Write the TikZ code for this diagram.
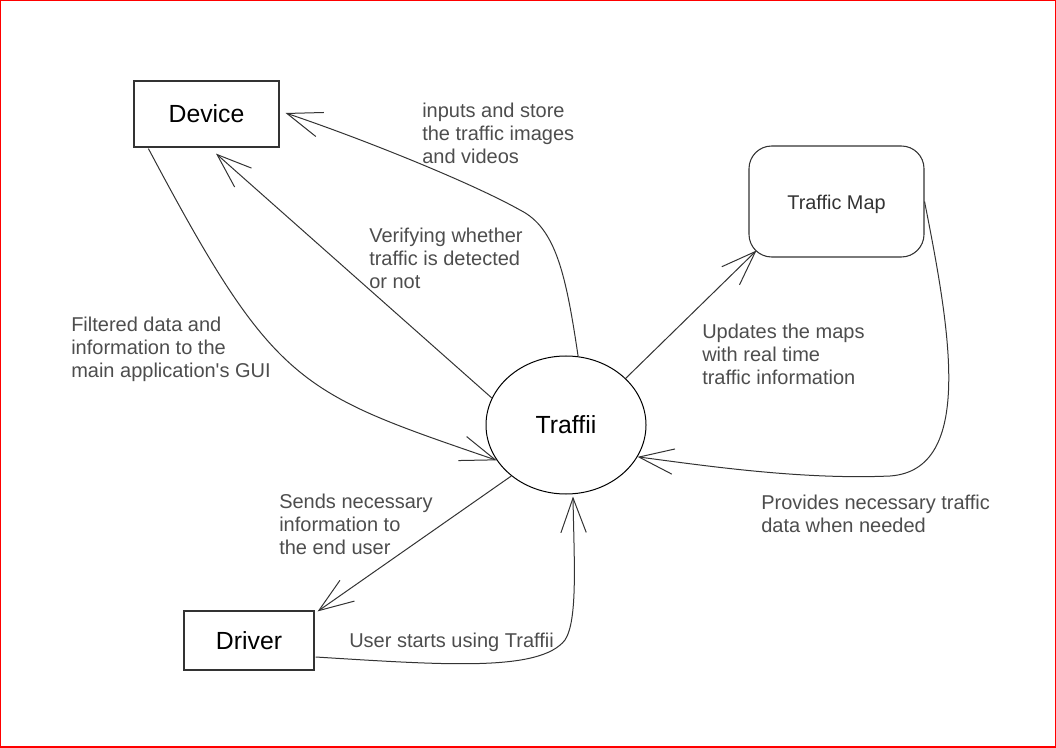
\documentclass[tikz,border=0pt]{standalone}
\usepackage{fontspec}
\setmainfont{Liberation Sans}
\usetikzlibrary{arrows.meta,shapes.geometric}
\definecolor{linec}{HTML}{333333}
\definecolor{labc}{HTML}{4D4D4D}
\begin{document}
\begin{tikzpicture}[x=0.75pt,y=-0.75pt,
  conn/.style={draw=linec, line width=0.75pt, -{Straight Barb[length=26pt,width=19pt]}},
  lab/.style={anchor=north west, inner sep=0pt, align=left, text=labc,
    font=\fontsize{15}{17.25}\selectfont},
  boxnode/.style={draw=linec, line width=0.9pt, inner sep=0pt,
    font=\fontsize{18.6}{21}\selectfont},
]
\useasboundingbox (0,0) rectangle (1056,748);
\draw[red, line width=0.9pt] (0.6,0.6) rectangle (1055.3,746.9);

% nodes
\node[boxnode, minimum width=108.75pt, minimum height=49.5pt] (device) at (206.5,114) {Device};
\node[draw=black, line width=0.75pt, ellipse, inner sep=0pt, minimum width=120pt, minimum height=103.5pt,
  font=\fontsize{18.6}{21}\selectfont] (traffii) at (566,425) {Traffii};
\node[draw=linec, line width=0.8pt, rounded corners=17pt, inner sep=0pt, minimum width=131.25pt,
  minimum height=83.25pt, text=linec, font=\fontsize{14.9}{17.25}\selectfont] (tmap) at (836.5,201.5) {};
\node[inner sep=0pt, text=linec, font=\fontsize{14.9}{17.25}\selectfont] (tmaplabel) at ([yshift=-2.5pt]tmap.center) {Traffic Map};
\node[boxnode, minimum width=97.5pt, minimum height=44.25pt] (driver) at (249,640.5) {Driver};

% connectors
\draw[conn] (traffii.160) -- ([shift={(9.5,6)}]device.south);
\draw[conn] (traffii.80) .. controls (566,275) and (556,228) .. (520,210)
  .. controls (470,182) and (360,138) .. ([shift={(6,-1)}]device.east);
\draw[conn] ([shift={(15,1)}]device.south west) .. controls (275,387) and (298,392) .. (traffii.207);
\draw[conn] (traffii.38) -- ([shift={(8,-7)}]tmap.south west);
\draw[conn] (tmap.east) .. controls (950,330) and (975,470) .. (890,476)
  .. controls (800,480) and (700,465) .. (traffii.-24);
\draw[conn] (traffii.223) -- ([shift={(3,1)}]driver.north east);
\draw[conn] ([shift={(1,16.5)}]driver.east) .. controls (445,665) and (540,672) .. (565,640)
  .. controls (578,620) and (574,560) .. ([shift={(7,2)}]traffii.south);

% labels
\node[lab] (l1) at (422,103) {inputs and store\\the traffic images\\and videos};
\node[lab] (l2) at (369,228) {Verifying whether\\traffic is detected\\or not};
\node[lab] (l3) at (71,317) {Filtered data and\\information to the\\main application\textquotesingle s GUI};
\node[lab] (l4) at (702,324) {Updates the maps\\with real time\\traffic information};
\node[lab] (l5) at (761,495) {Provides necessary traffic\\data when needed};
\node[lab] (l6) at (279,494) {Sends necessary\\information to\\the end user};
\node[lab] (l7) at (349,633) {User starts using Traffii};
\end{tikzpicture}
\end{document}
